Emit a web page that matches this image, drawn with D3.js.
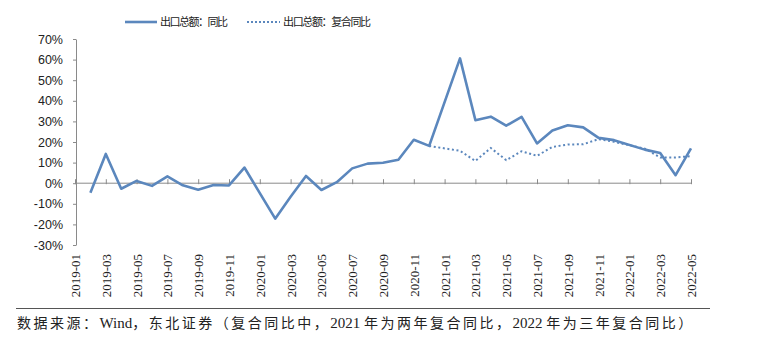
<!DOCTYPE html>
<html>
<head>
<meta charset="utf-8">
<script src="https://cdn.jsdelivr.net/npm/d3@7"></script>
<style>
  body { margin: 0; background: #fff; }
  svg { display: block; }
</style>
</head>
<body>
<div id="chart"></div>
<script>
const months = [
  "2019-01","2019-02","2019-03","2019-04","2019-05","2019-06","2019-07","2019-08","2019-09","2019-10","2019-11","2019-12",
  "2020-01","2020-02","2020-03","2020-04","2020-05","2020-06","2020-07","2020-08","2020-09","2020-10","2020-11","2020-12",
  "2021-01","2021-02","2021-03","2021-04","2021-05","2021-06","2021-07","2021-08","2021-09","2021-10","2021-11","2021-12",
  "2022-01","2022-02","2022-03","2022-04","2022-05"
];
// 出口总额：同比 (%), null = no value that month
const yoy = [
  null, -4.6, 14.2, -2.7, 1.1, -1.3, 3.3, -1.0, -3.2, -0.9, -1.1, 7.6,
  null, -17.2, -6.6, 3.5, -3.3, 0.5, 7.2, 9.5, 9.9, 11.4, 21.1, 18.1,
  null, 60.6, 30.6, 32.3, 27.9, 32.2, 19.3, 25.6, 28.1, 27.1, 22.0, 20.9,
  null, 16.3, 14.7, 3.9, 16.9
];
// 出口总额：复合同比 (%)
const compound = [
  null, null, null, null, null, null, null, null, null, null, null, null,
  null, null, null, null, null, null, null, null, null, null, null, 18.1,
  null, 15.7, 10.8, 17.1, 11.2, 15.5, 13.3, 17.6, 18.8, 18.9, 21.4, 20.1,
  null, 16.8, 12.5, 12.5, 13.1
];
const yTicks = [-30, -20, -10, 0, 10, 20, 30, 40, 50, 60, 70];
const legendNames = ["出口总额：同比", "出口总额：复合同比"];
const sourceNote = "数据来源：Wind，东北证券（复合同比中，2021 年为两年复合同比，2022 年为三年复合同比）";

const W = 775, H = 351;
const blue = "#5b87bd", axisCol = "#8a8a8a";

const svg = d3.select("#chart").append("svg")
  .attr("width", W).attr("height", H);

const x = d3.scaleLinear().domain([0, months.length - 1]).range([75, 691]);
const y = d3.scaleLinear().domain([-30, 70]).range([245, 39]);
const axisX = 76;

// y axis
const yAxis = svg.append("g")
  .attr("transform", `translate(${axisX},0)`)
  .call(d3.axisLeft(y).tickValues(yTicks).tickSizeInner(3).tickSizeOuter(0)
    .tickFormat(d => d + "%"));
yAxis.select(".domain").attr("stroke", axisCol);
yAxis.selectAll(".tick line").attr("stroke", axisCol);
yAxis.selectAll(".tick text")
  .attr("x", -13)
  .attr("fill", "#222")
  .style("font-family", "Liberation Sans, Arial, sans-serif")
  .style("font-size", "12.5px");

// zero line with category ticks
const oddIdx = months.map((m, i) => i).filter(i => i % 2 === 0);
const xAxis = svg.append("g")
  .attr("transform", `translate(0,${y(0)})`)
  .call(d3.axisTop(x).tickValues(oddIdx).tickSizeInner(4).tickSizeOuter(0).tickFormat(""));
xAxis.select(".domain").attr("stroke", axisCol).attr("d", `M${axisX},0H${x(months.length - 1)}`);
xAxis.selectAll(".tick line").attr("stroke", axisCol).attr("y1", 1);

// x labels at the bottom
const xLab = svg.append("g")
  .attr("transform", `translate(0,245)`)
  .call(d3.axisBottom(x).tickValues(oddIdx).tickSize(0).tickFormat(i => months[i]));
xLab.select(".domain").remove();
xLab.selectAll(".tick text")
  .attr("transform", "rotate(-90)")
  .attr("x", -9).attr("y", 0).attr("dy", "0.35em")
  .attr("text-anchor", "end")
  .attr("fill", "#222")
  .style("font-family", "Liberation Serif, Times New Roman, serif")
  .style("font-size", "13px");

// lines
const pts = vals => vals.map((v, i) => [i, v]).filter(d => d[1] !== null);
const line = d3.line().x(d => x(d[0])).y(d => y(d[1]));

svg.append("path")
  .attr("d", line(pts(compound)))
  .attr("fill", "none").attr("stroke", blue)
  .attr("stroke-width", 2).attr("stroke-dasharray", "2,2.6");

svg.append("path")
  .attr("d", line(pts(yoy)))
  .attr("fill", "none").attr("stroke", blue)
  .attr("stroke-width", 2.6).attr("stroke-linejoin", "round");

// legend
const lg = svg.append("g").style("font-family", "Noto Sans CJK SC, sans-serif").style("font-size", "11px");
lg.append("line").attr("x1", 125).attr("x2", 157).attr("y1", 22).attr("y2", 22)
  .attr("stroke", blue).attr("stroke-width", 2.6);
lg.append("text").attr("x", 160).attr("y", 26).attr("fill", "#222")
  .attr("textLength", 68).text(legendNames[0]);
lg.append("line").attr("x1", 247).attr("x2", 280).attr("y1", 22).attr("y2", 22)
  .attr("stroke", blue).attr("stroke-width", 2).attr("stroke-dasharray", "2,2");
lg.append("text").attr("x", 283).attr("y", 26).attr("fill", "#222")
  .attr("textLength", 88).text(legendNames[1]);

// separator and source
svg.append("line").attr("x1", 16).attr("x2", 710).attr("y1", 308.5).attr("y2", 308.5)
  .attr("stroke", "#555").attr("stroke-width", 1);
const src = svg.append("text").attr("x", 17).attr("y", 328)
  .attr("fill", "#222")
  .attr("xml:space", "preserve");
sourceNote.split(/([A-Za-z0-9]+ ?)/).filter(s => s.length).forEach(s => {
  const latin = /^[A-Za-z0-9]/.test(s);
  src.append("tspan")
    .style("font-family", latin ? "Liberation Serif, serif" : "Noto Sans CJK SC, sans-serif")
    .style("font-size", latin ? "15px" : "14px")
    .style("letter-spacing", latin ? "0px" : "2.5px")
    .text(s);
});
</script>
</body>
</html>
